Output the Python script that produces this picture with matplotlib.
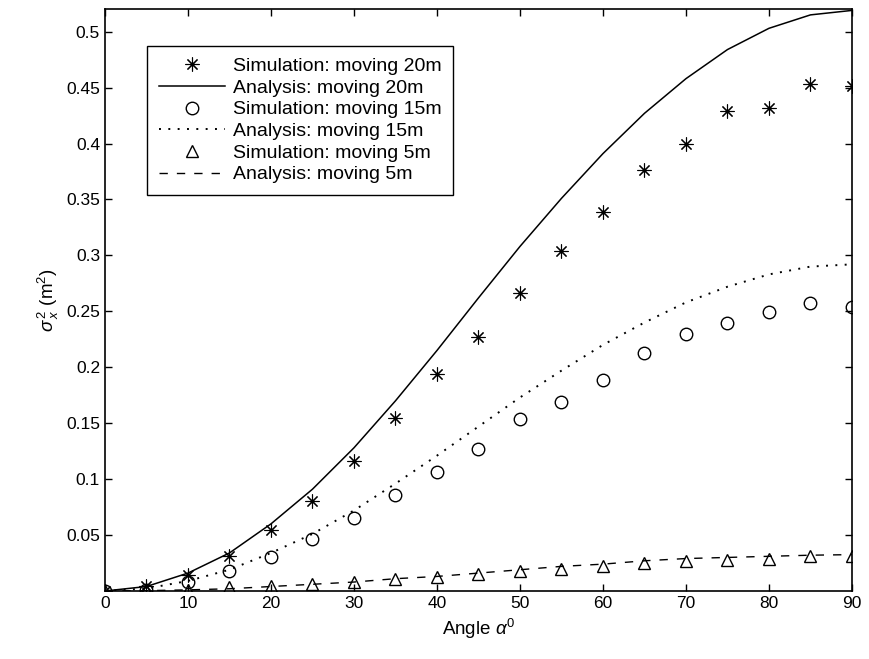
import matplotlib.pyplot as plt

plt.rcParams['font.family'] = ['Liberation Sans', 'DejaVu Sans']
plt.rcParams['mathtext.fontset'] = 'custom'
plt.rcParams['mathtext.rm'] = 'Liberation Sans'
plt.rcParams['mathtext.it'] = 'Liberation Sans:italic'

angle = [0, 5, 10, 15, 20, 25, 30, 35, 40, 45, 50, 55, 60, 65, 70, 75, 80, 85, 90]

sim_20 = [0, 0.0045, 0.0143, 0.031, 0.0545, 0.0806, 0.116, 0.155, 0.194, 0.227,
          0.266, 0.304, 0.339, 0.376, 0.400, 0.429, 0.432, 0.453, 0.451]
ana_20 = [0, 0.004, 0.016, 0.034, 0.060, 0.091, 0.128, 0.170, 0.215, 0.262,
          0.308, 0.351, 0.391, 0.427, 0.458, 0.484, 0.503, 0.515, 0.519]

sim_15 = [0, 0.001, 0.0083, 0.018, 0.030, 0.0464, 0.065, 0.0857, 0.1065, 0.1265,
          0.1536, 0.169, 0.1884, 0.2128, 0.230, 0.2396, 0.2494, 0.2574, 0.2538]
ana_15 = [0, 0.0022, 0.009, 0.019, 0.034, 0.051, 0.072, 0.096, 0.121, 0.147,
          0.173, 0.197, 0.220, 0.240, 0.258, 0.272, 0.283, 0.290, 0.292]

sim_5 = [0, 0.0005, 0.001, 0.004, 0.0045, 0.006, 0.008, 0.0104, 0.0128, 0.015,
         0.018, 0.020, 0.022, 0.0247, 0.027, 0.028, 0.029, 0.031, 0.031]
ana_5 = [0, 0.0003, 0.001, 0.002, 0.004, 0.006, 0.008, 0.011, 0.013, 0.016,
         0.019, 0.022, 0.024, 0.027, 0.029, 0.030, 0.031, 0.032, 0.0325]

yticks = [0.05, 0.1, 0.15, 0.2, 0.25, 0.3, 0.35, 0.4, 0.45, 0.5]
yticklabels = ['0.05', '0.1', '0.15', '0.2', '0.25', '0.3', '0.35', '0.4', '0.45', '0.5']
xticks = [0, 10, 20, 30, 40, 50, 60, 70, 80, 90]

fig = plt.figure(figsize=(8.69, 6.59), dpi=100)
ax = fig.add_axes([0.1208, 0.1032, 0.8596, 0.8827])

ax.plot(angle, sim_20, linestyle='none', marker=(8, 2, 0), ms=10, mew=0.8,
        color='black', label='Simulation: moving 20m')
ax.plot(angle, ana_20, '-', lw=1.1, color='black', label='Analysis: moving 20m')
ax.plot(angle, sim_15, linestyle='none', marker='o', ms=9, mew=1.0, mfc='none',
        color='black', label='Simulation: moving 15m')
ax.plot(angle, ana_15, linestyle=(0, (1, 3.8)), lw=1.4, color='black',
        label='Analysis: moving 15m')
ax.plot(angle, sim_5, linestyle='none', marker='^', ms=9, mew=1.0, mfc='none',
        color='black', label='Simulation: moving 5m')
ax.plot(angle, ana_5, linestyle=(0, (6, 6.5)), lw=1.0, color='black',
        label='Analysis: moving 5m')

ax.set_xlim(0, 90)
ax.set_ylim(0, 0.52)
ax.set_xticks(xticks)
ax.set_yticks(yticks)
ax.set_yticklabels(yticklabels)
ax.tick_params(direction='in', top=True, right=True, labelsize=12.5, length=5, width=1)
for s in ax.spines.values():
    s.set_linewidth(1.2)

ax.set_xlabel(r'Angle $\alpha^0$', fontsize=13.5)
ax.set_ylabel(r'$\sigma^{\,2}_{\,x}$ (m$^2$)', fontsize=13.5)

leg = ax.legend(loc='upper left', bbox_to_anchor=(0.0562, 0.9374), borderaxespad=0,
                fontsize=14, frameon=True, fancybox=False, edgecolor='black',
                framealpha=1, handlelength=3.4, handletextpad=0.4, labelspacing=0.21,
                borderpad=0.6)
leg.get_frame().set_linewidth(1.0)

fig.savefig('out.png', dpi=100)
